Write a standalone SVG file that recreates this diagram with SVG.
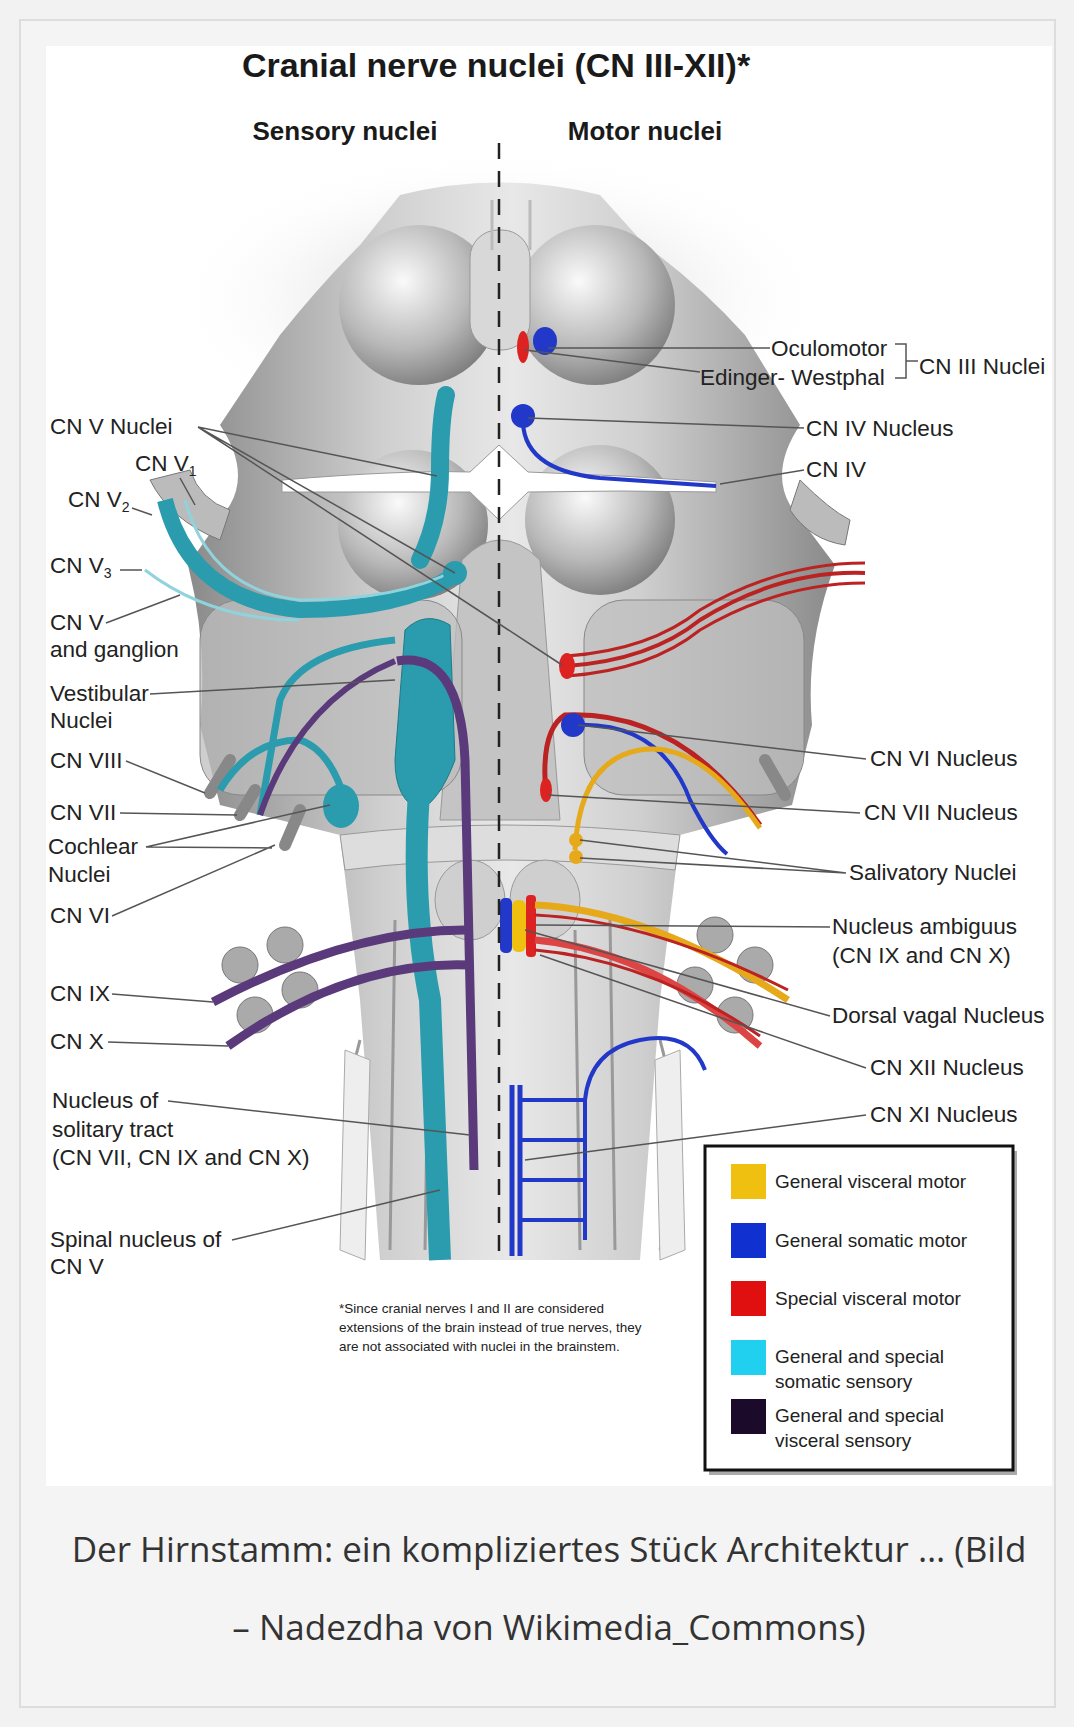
<svg xmlns="http://www.w3.org/2000/svg" width="1074" height="1727" viewBox="0 0 1074 1727">
<style>
.lb{font-family:"Liberation Sans",Arial,sans-serif;font-size:22.5px;fill:#222}
.lg{font-family:"Liberation Sans",Arial,sans-serif;font-size:19px;fill:#222}
.hd{font-family:"Liberation Sans",Arial,sans-serif;font-weight:bold;fill:#1a1a1a}
.cap{font-family:"Open Sans","DejaVu Sans",sans-serif;font-size:35px;fill:#333}
.ld{stroke:#555;stroke-width:1.5;fill:none}
.fn{font-family:"Liberation Sans",Arial,sans-serif;font-size:13.5px;fill:#222}
</style>
<defs>
<linearGradient id="body" x1="0" x2="1"><stop offset="0" stop-color="#8a8a8a"/><stop offset="0.3" stop-color="#cfcfcf"/><stop offset="0.5" stop-color="#e8e8e8"/><stop offset="0.7" stop-color="#cfcfcf"/><stop offset="1" stop-color="#8a8a8a"/></linearGradient>
<radialGradient id="lobe" cx="0.4" cy="0.35" r="0.7"><stop offset="0" stop-color="#fafafa"/><stop offset="0.6" stop-color="#b8b8b8"/><stop offset="1" stop-color="#7a7a7a"/></radialGradient>
<radialGradient id="shadow" cx="0.5" cy="0.5" r="0.5"><stop offset="0" stop-color="#999" stop-opacity="0.6"/><stop offset="1" stop-color="#fff" stop-opacity="0"/></radialGradient>
</defs>
<rect width="1074" height="1727" fill="#f2f2f2"/>
<rect x="20" y="20" width="1035" height="1687" fill="#f4f4f4" stroke="#ddd" stroke-width="2"/>
<rect x="46" y="46" width="1006" height="1440" fill="#fff"/>
<text class="hd" x="496" y="77" font-size="34" text-anchor="middle">Cranial nerve nuclei (CN III-XII)*</text>
<text class="hd" x="345" y="140" font-size="26" text-anchor="middle">Sensory nuclei</text>
<text class="hd" x="645" y="140" font-size="26" text-anchor="middle">Motor nuclei</text>
<g id="brainstem">
<ellipse cx="500" cy="300" rx="330" ry="150" fill="url(#shadow)"/>
<path d="M400,195 Q500,170 600,195 L645,245 Q700,285 745,335 L800,425 Q770,470 790,505 L835,565 Q805,645 812,725 L792,805 L680,835 L660,1000 L640,1260 L380,1260 L360,1000 L340,835 L220,805 L200,725 Q208,645 188,565 L230,505 Q250,470 220,425 L280,335 Q320,285 360,245 Z" fill="url(#body)"/>
<circle cx="419" cy="305" r="80" fill="url(#lobe)"/>
<circle cx="595" cy="305" r="80" fill="url(#lobe)"/>
<circle cx="413" cy="525" r="75" fill="url(#lobe)"/>
<circle cx="600" cy="520" r="75" fill="url(#lobe)"/>
<rect x="470" y="230" width="60" height="120" rx="28" fill="#d8d8d8" stroke="#999"/>
<path d="M492,200 V250 M530,200 V250" stroke="#bbb" stroke-width="3"/>
<path d="M462,560 Q500,520 540,560 L560,820 L440,820 Z" fill="#c4c4c4" stroke="#999"/>
<rect x="200" y="600" width="262" height="195" rx="40" fill="#bdbdbd" fill-opacity="0.75" stroke="#888"/>
<rect x="584" y="600" width="220" height="195" rx="40" fill="#bdbdbd" fill-opacity="0.75" stroke="#888"/>
<path d="M340,835 Q500,815 680,835 L675,870 Q500,850 345,870 Z" fill="#ddd" stroke="#999"/>
<ellipse cx="470" cy="900" rx="35" ry="40" fill="#cfcfcf" stroke="#999"/>
<ellipse cx="545" cy="900" rx="35" ry="40" fill="#cfcfcf" stroke="#999"/>
<path d="M395,920 L390,1250 M430,930 L425,1250 M575,930 L580,1250 M610,920 L615,1250 M360,1040 Q330,1150 360,1250 M660,1040 Q690,1150 660,1250" stroke="#999" stroke-width="3" fill="none"/>
<path d="M345,1050 L370,1060 L365,1260 L340,1250 Z M680,1050 L655,1060 L660,1260 L685,1250 Z" fill="#eee" stroke="#aaa"/>
<path d="M150,480 Q170,520 220,540 L230,510 Q200,500 190,470 Z M800,480 Q830,510 850,520 L845,545 Q810,540 790,510 Z" fill="#bbb" stroke="#777"/>
<g stroke="#888" stroke-width="12" stroke-linecap="round">
<line x1="230" y1="760" x2="210" y2="793"/><line x1="255" y1="790" x2="240" y2="815"/><line x1="300" y1="810" x2="285" y2="845"/>
<line x1="765" y1="760" x2="785" y2="795"/>
</g>
<g fill="#aaa" stroke="#777">
<circle cx="240" cy="965" r="18"/><circle cx="285" cy="945" r="18"/><circle cx="255" cy="1015" r="18"/><circle cx="300" cy="990" r="18"/>
<circle cx="715" cy="935" r="18"/><circle cx="755" cy="965" r="18"/><circle cx="695" cy="985" r="18"/><circle cx="735" cy="1015" r="18"/>
</g>
<path d="M282,480 Q400,470 470,472 L499,445 L528,472 Q620,475 716,482 L716,492 Q620,490 528,492 L499,520 L470,492 Q400,492 282,492 Z" fill="#fff" stroke="#999"/>
</g>
<g id="nuclei">
<path d="M446,395 Q440,420 440,470 Q440,520 420,560" stroke="#2a9cad" stroke-width="18" fill="none" stroke-linecap="round"/>
<path d="M165,500 Q190,600 300,610 Q400,610 455,575" stroke="#2a9cad" stroke-width="16" fill="none"/>
<path d="M185,500 Q210,590 300,600 Q400,600 455,570 M145,570 Q210,620 300,620" stroke="#8fd3dc" stroke-width="3" fill="none"/>
<circle cx="455" cy="573" r="12" fill="#2a9cad"/>
<path d="M405,630 Q425,610 450,625 L455,760 Q440,800 420,810 Q395,800 395,760 Z" fill="#2a9cad" stroke="#1e7b88"/>
<path d="M420,780 Q410,900 430,1000 L440,1260" stroke="#2a9cad" stroke-width="22" fill="none"/>
<path d="M220,790 Q250,740 300,740 Q330,750 345,800 M395,640 Q300,650 280,700 L260,815" stroke="#2a9cad" stroke-width="7" fill="none"/>
<ellipse cx="341" cy="806" rx="18" ry="22" fill="#2a9cad"/>
<path d="M397,661 Q460,650 465,760 Q470,950 474,1170" stroke="#5a3a7a" stroke-width="9" fill="none"/>
<path d="M260,815 Q300,700 395,661" stroke="#5a3a7a" stroke-width="6" fill="none"/>
<path d="M465,930 Q350,930 213,1002 M470,965 Q350,960 228,1046" stroke="#5a3a7a" stroke-width="9" fill="none"/>
<ellipse cx="523" cy="347" rx="6" ry="16" fill="#d22"/>
<ellipse cx="545" cy="341" rx="12" ry="14" fill="#2238c8"/>
<circle cx="523" cy="416" r="12" fill="#2238c8"/>
<path d="M523,416 Q520,470 600,478 L716,486" stroke="#2238c8" stroke-width="4" fill="none"/>
<path d="M567,666 Q650,660 700,620 Q780,570 865,573" stroke="#b22" stroke-width="4" fill="none"/>
<path d="M567,676 Q650,670 700,630 Q780,583 865,583 M567,656 Q650,650 700,610 Q780,563 865,563" stroke="#b22" stroke-width="3" fill="none"/>
<ellipse cx="567" cy="666" rx="8" ry="13" fill="#d22"/>
<path d="M546,795 Q540,730 565,715 Q680,710 760,825" stroke="#b22" stroke-width="5" fill="none"/>
<ellipse cx="546" cy="790" rx="6" ry="12" fill="#d22"/>
<path d="M573,725 Q660,720 690,800 Q710,840 727,854" stroke="#2238c8" stroke-width="4" fill="none"/>
<ellipse cx="573" cy="725" rx="12" ry="12" fill="#2238c8"/>
<path d="M575,850 Q580,760 640,750 Q700,740 760,828" stroke="#e6a91a" stroke-width="5" fill="none"/>
<circle cx="576" cy="840" r="7" fill="#e6a91a"/><circle cx="576" cy="857" r="7" fill="#e6a91a"/>
<rect x="500" y="898" width="12" height="55" rx="5" fill="#2238c8"/>
<rect x="512" y="900" width="14" height="52" rx="6" fill="#f0c010"/>
<rect x="526" y="895" width="10" height="62" rx="4" fill="#d22"/>
<path d="M535,905 Q650,910 788,1000" stroke="#e6a91a" stroke-width="7" fill="none"/>
<path d="M535,940 Q650,950 760,1046" stroke="#d44" stroke-width="7" fill="none"/>
<path d="M535,915 Q650,920 788,990 M535,950 Q650,960 760,1036" stroke="#b22" stroke-width="3" fill="none"/>
<path d="M512,1085 V1256 M520,1085 V1256" stroke="#2238c8" stroke-width="5"/>
<path d="M520,1100 H585 M520,1140 H585 M520,1180 H585 M520,1220 H585 M585,1100 Q590,1050 640,1040 Q690,1030 705,1070 M585,1100 V1240" stroke="#2238c8" stroke-width="4" fill="none"/>
<line x1="499" y1="143" x2="499" y2="1256" stroke="#222" stroke-width="2.5" stroke-dasharray="16,12"/>
</g>
<g id="connectors">
<path class="ld" d="M198,427 L437,476 M198,427 L455,573 M198,427 L562,665 M180,478 L195,505 M132,508 L152,515 M120,570 L142,570 M106,623 L180,595 M150,694 L395,680 M126,761 L205,793 M120,813 L237,815 M146,847 L330,805 M146,847 L272,848 M112,916 L275,845 M112,994 L213,1002 M108,1042 L228,1046 M168,1101 L470,1135 M232,1240 L440,1190"/>
<path class="ld" d="M770,348 L548,348 M700,372 L525,350 M895,344 H906 V378 H895 M906,361 H918 M804,428 L528,418 M804,470 L720,484 M866,759 L578,725 M860,813 L548,795 M846,873 L580,840 M846,873 L580,858 M830,927 L536,925 M830,1016 L525,930 M866,1068 L540,955 M866,1115 L525,1160"/>
</g>
<g id="labels">
<text class="lb" x="50" y="434">CN V Nuclei</text>
<text class="lb" x="135" y="471">CN V<tspan font-size="14" dy="5">1</tspan></text>
<text class="lb" x="68" y="507">CN V<tspan font-size="14" dy="5">2</tspan></text>
<text class="lb" x="50" y="573">CN V<tspan font-size="14" dy="5">3</tspan></text>
<text class="lb" x="50" y="630">CN V</text>
<text class="lb" x="50" y="657">and ganglion</text>
<text class="lb" x="50" y="701">Vestibular</text>
<text class="lb" x="50" y="728">Nuclei</text>
<text class="lb" x="50" y="768">CN VIII</text>
<text class="lb" x="50" y="820">CN VII</text>
<text class="lb" x="48" y="854">Cochlear</text>
<text class="lb" x="48" y="882">Nuclei</text>
<text class="lb" x="50" y="923">CN VI</text>
<text class="lb" x="50" y="1001">CN IX</text>
<text class="lb" x="50" y="1049">CN X</text>
<text class="lb" x="52" y="1108">Nucleus of</text>
<text class="lb" x="52" y="1137">solitary tract</text>
<text class="lb" x="52" y="1165">(CN VII, CN IX and CN X)</text>
<text class="lb" x="50" y="1247">Spinal nucleus of</text>
<text class="lb" x="50" y="1274">CN V</text>
<text class="lb" x="771" y="356">Oculomotor</text>
<text class="lb" x="700" y="385">Edinger- Westphal</text>
<text class="lb" x="919" y="374">CN III Nuclei</text>
<text class="lb" x="806" y="436">CN IV Nucleus</text>
<text class="lb" x="806" y="477">CN IV</text>
<text class="lb" x="870" y="766">CN VI Nucleus</text>
<text class="lb" x="864" y="820">CN VII Nucleus</text>
<text class="lb" x="849" y="880">Salivatory Nuclei</text>
<text class="lb" x="832" y="934">Nucleus ambiguus</text>
<text class="lb" x="832" y="963">(CN IX and CN X)</text>
<text class="lb" x="832" y="1023">Dorsal vagal Nucleus</text>
<text class="lb" x="870" y="1075">CN XII Nucleus</text>
<text class="lb" x="870" y="1122">CN XI Nucleus</text>
<text class="fn" x="339" y="1313">*Since cranial nerves I and II are considered</text>
<text class="fn" x="339" y="1332">extensions of the brain instead of true nerves, they</text>
<text class="fn" x="339" y="1351">are not associated with nuclei in the brainstem.</text>
</g>
<g id="legend">
<rect x="709" y="1151" width="308" height="324" fill="#aaa"/>
<rect x="705" y="1146" width="308" height="324" fill="#fff" stroke="#111" stroke-width="3"/>
<rect x="731" y="1164" width="35" height="35" fill="#f0c010"/>
<rect x="731" y="1223" width="35" height="35" fill="#1030d0"/>
<rect x="731" y="1281" width="35" height="35" fill="#e01010"/>
<rect x="731" y="1340" width="35" height="35" fill="#20d0ee"/>
<rect x="731" y="1399" width="35" height="35" fill="#1c0a2a"/>
<text class="lg" x="775" y="1188">General visceral motor</text>
<text class="lg" x="775" y="1247">General somatic motor</text>
<text class="lg" x="775" y="1305">Special visceral motor</text>
<text class="lg" x="775" y="1363">General and special</text>
<text class="lg" x="775" y="1388">somatic sensory</text>
<text class="lg" x="775" y="1422">General and special</text>
<text class="lg" x="775" y="1447">visceral sensory</text>
</g>
<text class="cap" x="549" y="1562" text-anchor="middle">Der Hirnstamm: ein kompliziertes Stück Architektur … (Bild</text>
<text class="cap" x="549" y="1640" text-anchor="middle">– Nadezdha von Wikimedia_Commons)</text>
</svg>
